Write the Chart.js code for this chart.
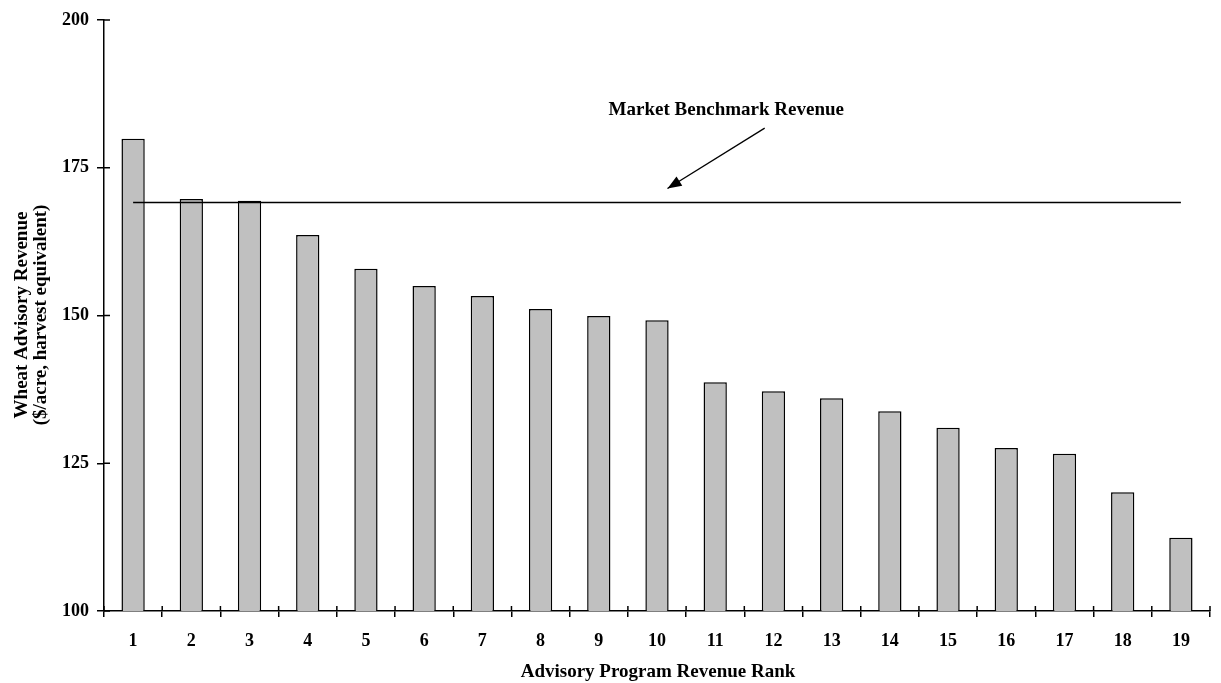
<!DOCTYPE html>
<html lang="en">
<head>
  <meta charset="UTF-8" />
  <title>Wheat Advisory Revenue</title>
  <script src="https://cdn.jsdelivr.net/npm/chart.js"></script>
  <style>
    html, body { margin: 0; padding: 0; background: #fff; }
    #wrap { width: 1221px; height: 683px; }
  </style>
</head>
<body>
  <div id="wrap"><canvas id="chart" width="1221" height="683"></canvas></div>
  <script>
    // Data
    const ranks = ['1','2','3','4','5','6','7','8','9','10','11','12','13','14','15','16','17','18','19'];
    const revenue = [179.9, 169.7, 169.4, 163.6, 157.9, 155.0, 153.3, 151.1, 149.9, 149.2,
                     138.7, 137.2, 136.0, 133.8, 131.0, 127.6, 126.6, 120.1, 112.4];
    const benchmark = 169.1;
    const yTicks = [100, 125, 150, 175, 200];

    const FONT = '"Liberation Serif", "Times New Roman", serif';

    // titles, y tick crossings and the benchmark arrow
    const extras = {
      id: 'extras',
      afterDraw(chart) {
        const ctx = chart.ctx;
        const x = chart.scales.x, y = chart.scales.y;
        const area = chart.chartArea;
        ctx.save();
        ctx.strokeStyle = '#000';
        ctx.lineWidth = 1.5;
        // inner half of the y ticks
        yTicks.forEach(v => {
          const py = y.getPixelForValue(v);
          ctx.beginPath();
          ctx.moveTo(area.left, py);
          ctx.lineTo(area.left + 6, py);
          ctx.stroke();
        });
        // small part of x ticks above the axis
        for (let i = 0; i <= ranks.length; i++) {
          const px = x.getPixelForValue(i - 0.5);
          ctx.beginPath();
          ctx.moveTo(px, area.bottom - 5);
          ctx.lineTo(px, area.bottom);
          ctx.stroke();
        }

        ctx.fillStyle = '#000';
        ctx.font = 'bold 19px ' + FONT;
        ctx.textAlign = 'center';
        ctx.textBaseline = 'middle';
        // annotation
        ctx.fillText('Market Benchmark Revenue', x.getPixelForValue(10.19), y.getPixelForValue(184.8));
        const x1 = x.getPixelForValue(10.85), y1 = y.getPixelForValue(181.7);
        const x2 = x.getPixelForValue(9.18), y2 = y.getPixelForValue(171.5);
        ctx.lineWidth = 1.3;
        ctx.beginPath();
        ctx.moveTo(x1, y1);
        ctx.lineTo(x2, y2);
        ctx.stroke();
        const ang = Math.atan2(y2 - y1, x2 - x1);
        const L = 14, W = 5.5;
        ctx.beginPath();
        ctx.moveTo(x2, y2);
        ctx.lineTo(x2 - L * Math.cos(ang) + W * Math.sin(ang), y2 - L * Math.sin(ang) - W * Math.cos(ang));
        ctx.lineTo(x2 - L * Math.cos(ang) - W * Math.sin(ang), y2 - L * Math.sin(ang) + W * Math.cos(ang));
        ctx.closePath();
        ctx.fill();

        // axis titles
        ctx.fillText('Advisory Program Revenue Rank', (area.left + area.right) / 2 + 1, 672);
        ctx.translate(0, 315);
        ctx.rotate(-Math.PI / 2);
        ctx.fillText('Wheat Advisory Revenue', 0, 22);
        ctx.fillText('($/acre, harvest equivalent)', 0, 41);
        ctx.restore();
      }
    };

    new Chart(document.getElementById('chart'), {
      data: {
        labels: ranks,
        datasets: [
          {
            type: 'line',
            label: 'Market Benchmark Revenue',
            data: ranks.map(() => benchmark),
            borderColor: '#000',
            borderWidth: 1.5,
            pointRadius: 0,
            order: 0
          },
          {
            type: 'bar',
            label: 'Wheat Advisory Revenue',
            data: revenue,
            backgroundColor: '#c0c0c0',
            borderColor: '#000',
            borderWidth: 1.5,
            barPercentage: 0.4,
            categoryPercentage: 1,
            order: 1
          }
        ]
      },
      options: {
        responsive: false,
        animation: false,
        layout: { padding: { top: 20, right: 11, left: 0, bottom: 0 } },
        plugins: { legend: { display: false }, tooltip: { enabled: false } },
        scales: {
          x: {
            offset: true,
            grid: { offset: true, drawOnChartArea: false, color: '#000', lineWidth: 1.5, tickLength: 6, tickColor: '#000' },
            border: { color: '#000', width: 1.5 },
            ticks: { color: '#000', font: { family: FONT, size: 18, weight: 'bold' }, padding: 14, maxRotation: 0 },
            afterFit(s) { s.height = 72; }
          },
          y: {
            min: 100,
            max: 200,
            afterBuildTicks(s) { s.ticks = yTicks.map(v => ({ value: v })); },
            grid: { drawOnChartArea: false, color: '#000', lineWidth: 1.5, tickLength: 7 },
            border: { color: '#000', width: 1.5 },
            ticks: { color: '#000', font: { family: FONT, size: 18, weight: 'bold' }, padding: 8 },
            afterFit(s) { s.width = 104; }
          }
        }
      },
      plugins: [extras]
    });
  </script>
</body>
</html>
